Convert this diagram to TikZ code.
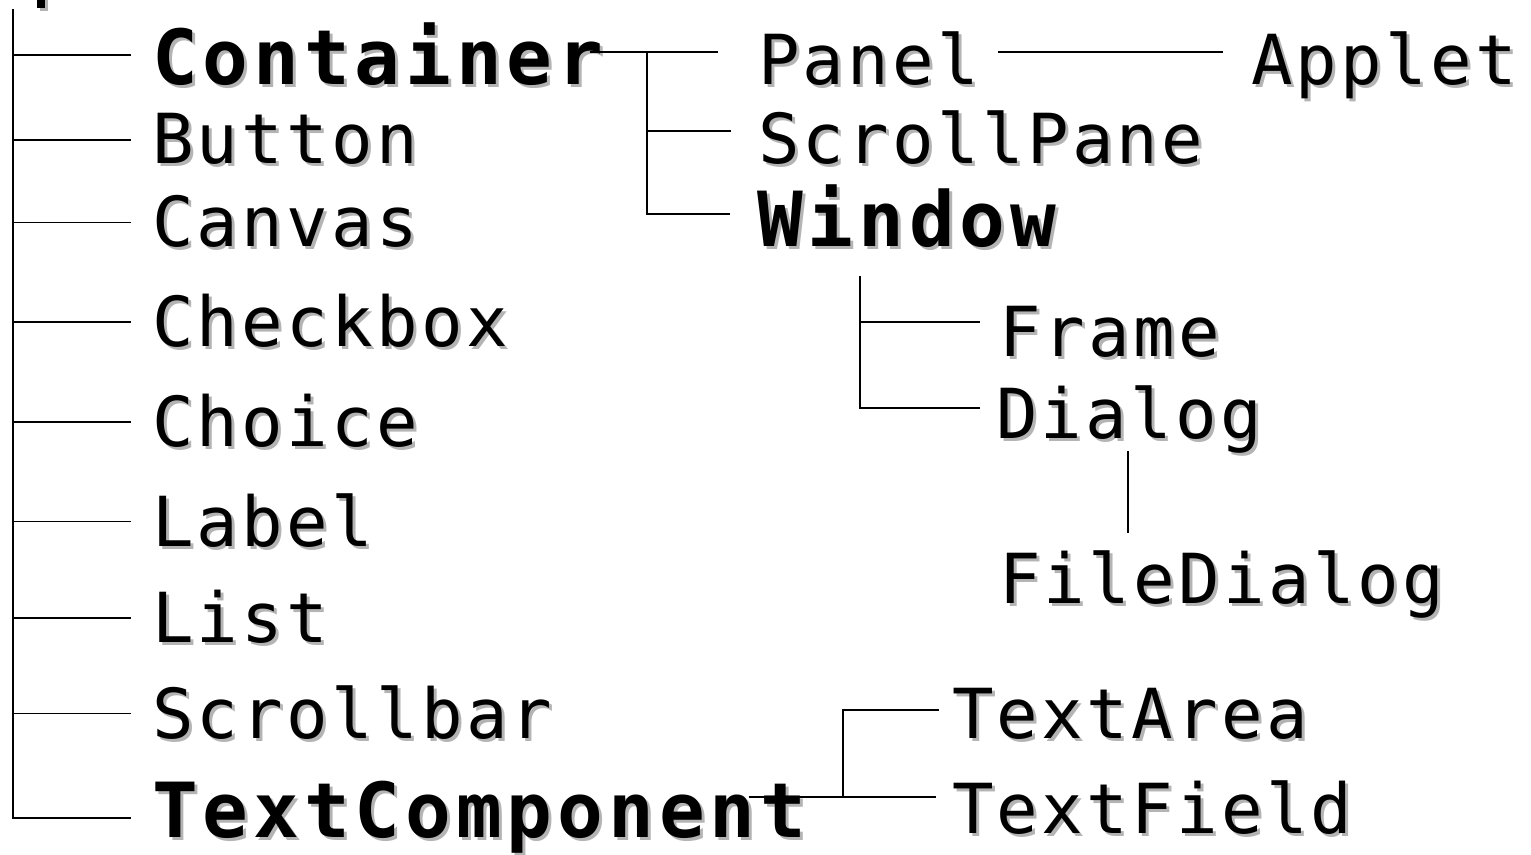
\documentclass[tikz,border=0pt]{standalone}
\usepackage{fontspec}
\newfontfamily\regfont[LetterSpace=4.8]{DejaVu Sans Mono}
\newfontfamily\bldfont[LetterSpace=6.5,UprightFont=* Bold]{DejaVu Sans Mono}
\definecolor{shadowgray}{HTML}{B4B4B4}
\newcommand{\shtxt}[1]{\makebox[0pt][l]{\hspace{3pt}\raisebox{-3pt}{\textcolor{shadowgray}{#1}}}#1}
\tikzset{
  reg/.style={anchor=base west, inner sep=0pt, font=\regfont\fontsize{69}{69}\selectfont},
  bld/.style={anchor=base west, inner sep=0pt, font=\bldfont\fontsize{76}{76}\selectfont},
  conn/.style={draw=black, line width=1.6pt},
}
\begin{document}
\begin{tikzpicture}[x=1pt,y=-1pt]
\useasboundingbox (0,0) rectangle (1531,854);
% fragment of cut-off root label
\fill[shadowgray] (40,0) rectangle (48,11);
\fill[black] (37,0) rectangle (45,8);

% left column
\node[bld] (container) at (152,84) {\shtxt{Container}};
\node[reg] (button) at (152,163) {\shtxt{Button}};
\node[reg] (canvas) at (152,246) {\shtxt{Canvas}};
\node[reg] (checkbox) at (152,346) {\shtxt{Checkbox}};
\node[reg] (choice) at (152,446) {\shtxt{Choice}};
\node[reg] (label) at (152,546) {\shtxt{Label}};
\node[reg] (list) at (152,642) {\shtxt{List}};
\node[reg] (scrollbar) at (152,738) {\shtxt{Scrollbar}};
\node[bld] (textcomp) at (152,837) {\shtxt{TextComponent}};

% container subtree
\node[reg] (panel) at (758,84) {\shtxt{Panel}};
\node[reg] (scrollpane) at (758,163) {\shtxt{ScrollPane}};
\node[bld] (window) at (757,246) {\shtxt{Window}};
\node[reg] (applet) at (1251,84) {\shtxt{Applet}};

% window subtree
\node[reg] (frame) at (999,356) {\shtxt{Frame}};
\node[reg] (dialog) at (996,438) {\shtxt{Dialog}};
\node[reg] (filedialog) at (999,603) {\shtxt{FileDialog}};

% text component subtree
\node[reg] (textarea) at (952,738) {\shtxt{TextArea}};
\node[reg] (textfield) at (952,833) {\shtxt{TextField}};

% trunk
\coordinate (top) at (13,9);
\draw[conn] (top) |- ([xshift=-21pt]textcomp.west);
\foreach \n in {container,button,canvas,checkbox,choice,label,list,scrollbar}
  \draw[conn] ([xshift=-21pt]\n.west) -- (\n.west -| top);

% container -> panel/scrollpane/window
\coordinate (jc) at (647,52);
\coordinate (jc2) at (647,131);
\coordinate (jc3) at (647,214);
\draw[conn] ([xshift=-14pt]container.east |- jc) -- ([xshift=-40pt]panel.base west |- jc);
\draw[conn] (jc) -- (jc3) -- ([xshift=-27pt]window.base west |- jc3);
\draw[conn] (jc2) -- ([xshift=-27pt]scrollpane.base west |- jc2);
% panel -> applet
\draw[conn] ([xshift=19pt]panel.east |- jc) -- ([xshift=-28pt]applet.base west |- jc);

% window -> frame/dialog
\coordinate (wtop) at (860,276);
\coordinate (wf) at (860,322);
\coordinate (wd) at (860,408);
\draw[conn] (wtop) -- (wd) -- ([xshift=-16pt]dialog.base west |- wd);
\draw[conn] (wf) -- ([xshift=-19pt]frame.base west |- wf);

% dialog -> filedialog
\coordinate (jx) at (1128,0);
\draw[conn] ([yshift=5pt]dialog.south -| jx) -- ([yshift=17pt]filedialog.north -| jx);

% textcomponent -> textarea/textfield
\coordinate (ta) at (843,710);
\coordinate (tf) at (843,797);
\draw[conn] ([xshift=-58pt]textcomp.east |- tf) -- ([xshift=-16pt]textfield.base west |- tf);
\draw[conn] (tf) -- (ta) -- ([xshift=-13pt]textarea.base west |- ta);
\end{tikzpicture}
\end{document}
